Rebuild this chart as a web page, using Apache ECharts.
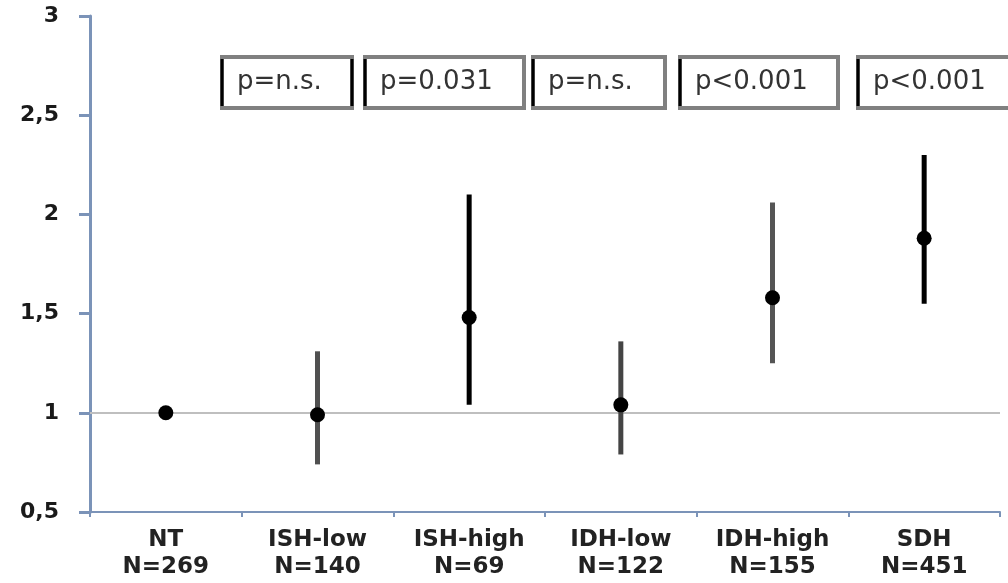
<!DOCTYPE html>
<html><head><meta charset="utf-8">
<script src="https://cdn.jsdelivr.net/npm/echarts@6/dist/echarts.min.js"></script>
<style>html,body{margin:0;padding:0;background:#fff}#c{width:1008px;height:583px}</style>
</head><body><div id="c"></div>
<script>
// ---- data ----
const categories = ['NT', 'ISH-low', 'ISH-high', 'IDH-low', 'IDH-high', 'SDH'];
const sampleSizes = ['N=269', 'N=140', 'N=69', 'N=122', 'N=155', 'N=451'];
const pointValues = [1.00, 0.99, 1.48, 1.04, 1.58, 1.88];
const lowerValues = [1.00, 0.74, 1.04, 0.79, 1.25, 1.55];
const upperValues = [1.00, 1.31, 2.10, 1.36, 2.06, 2.30];
const pValueLabels = ['p=n.s.', 'p=0.031', 'p=n.s.', 'p<0.001', 'p<0.001'];
const yTickValues = [0.5, 1, 1.5, 2, 2.5, 3];
const referenceValue = 1;

// ---- styles ----
const barColors = ['#000000', '#505050', '#000000', '#444444', '#555555', '#000000'];
const axisColor = '#7b93b8';

const chart = echarts.init(document.getElementById('c'), null, {renderer: 'canvas'});

// annotation box layout (pixels)
const boxLayout = [[222, 352], [365, 524], [533, 665], [680, 838], [858, 1014]];
const boxTop = 57, boxBottom = 108;
const graphics = [];
pValueLabels.forEach((txt, i) => {
  const [x0, x1] = boxLayout[i];
  graphics.push({
    type: 'rect', z: 10,
    shape: {x: x0, y: boxTop, width: x1 - x0, height: boxBottom - boxTop},
    style: {fill: '#ffffff', stroke: '#808080', lineWidth: 4}
  });
  graphics.push({
    type: 'line', z: 11,
    shape: {x1: x0, y1: boxTop + 2, x2: x0, y2: boxBottom - 2},
    style: {stroke: '#000000', lineWidth: 3}
  });
  if (i === 0) {
    graphics.push({
      type: 'line', z: 11,
      shape: {x1: x1, y1: boxTop + 2, x2: x1, y2: boxBottom - 2},
      style: {stroke: '#000000', lineWidth: 3}
    });
  }
  graphics.push({
    type: 'text', z: 12,
    x: x0 + 15, y: (boxTop + boxBottom) / 2,
    style: {text: txt, fill: '#333333', font: '26px "DejaVu Sans"', verticalAlign: 'middle', align: 'left'}
  });
});

const option = {
  animation: false,
  backgroundColor: '#ffffff',
  grid: {left: 90, right: 8, top: 16, bottom: 71, containLabel: false},
  xAxis: {
    type: 'category',
    data: categories.map((c, i) => c + '\n' + sampleSizes[i]),
    boundaryGap: true,
    axisLine: {lineStyle: {color: axisColor, width: 2}},
    axisTick: {show: true, length: 5, lineStyle: {color: axisColor, width: 2}},
    axisLabel: {
      interval: 0, margin: 15, color: '#222222',
      fontFamily: 'DejaVu Sans', fontWeight: 'bold', fontSize: 23, lineHeight: 27
    },
    splitLine: {show: false}
  },
  yAxis: {
    type: 'value',
    min: yTickValues[0], max: yTickValues[yTickValues.length - 1], interval: 0.5,
    axisLine: {show: true, lineStyle: {color: axisColor, width: 3}},
    axisTick: {show: true, length: 11, lineStyle: {color: axisColor, width: 3}},
    axisLabel: {
      margin: 31, color: '#1a1a1a',
      fontFamily: 'DejaVu Sans', fontWeight: 'bold', fontSize: 22,
      formatter: v => String(v).replace('.', ',')
    },
    splitLine: {show: false}
  },
  series: [
    {
      type: 'custom', z: 2,
      data: categories.map((c, i) => [i, lowerValues[i], upperValues[i]]),
      renderItem: (params, api) => {
        const i = api.value(0);
        const lo = api.coord([i, api.value(1)]);
        const hi = api.coord([i, api.value(2)]);
        return {
          type: 'line',
          shape: {x1: lo[0], y1: lo[1], x2: hi[0], y2: hi[1]},
          style: {stroke: barColors[i], lineWidth: 5}
        };
      },
      markLine: {
        z: 1, silent: true, symbol: 'none',
        label: {show: false},
        lineStyle: {color: '#bfbfbf', width: 2, type: 'solid'},
        data: [{yAxis: referenceValue}]
      }
    },
    {
      type: 'scatter', z: 3,
      data: pointValues.map((v, i) => [i, v]),
      symbol: 'circle', symbolSize: 15,
      itemStyle: {color: '#000000', opacity: 1}
    }
  ],
  graphic: graphics
};
chart.setOption(option);
</script>
</body></html>
